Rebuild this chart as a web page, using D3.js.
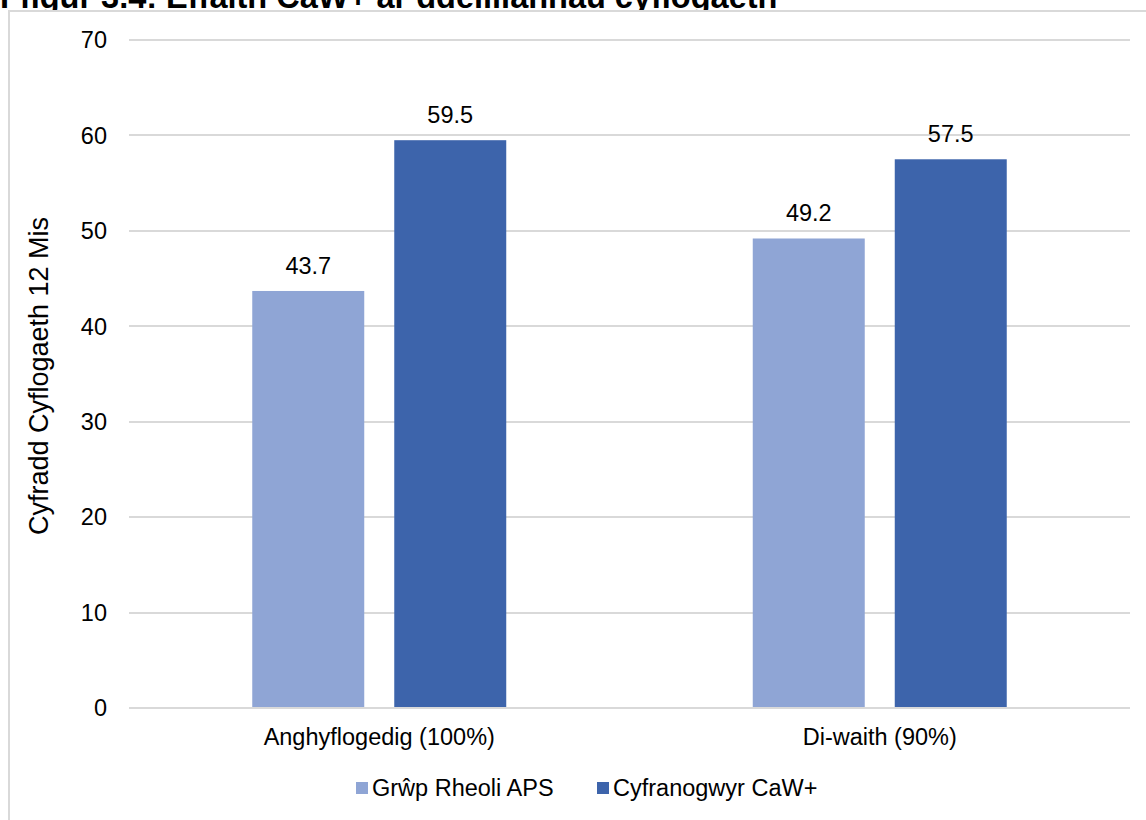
<!DOCTYPE html>
<html>
<head>
<meta charset="utf-8">
<script src="https://cdn.jsdelivr.net/npm/d3@7"></script>
<style>
  html, body { margin: 0; padding: 0; background: #fff; }
  svg { display: block; font-family: "Liberation Sans", Arial, sans-serif; }
</style>
</head>
<body>
<svg id="chart" width="1146" height="820"></svg>
<script>
const titleText = "Ffigur 3.4: Effaith CaW+ ar ddeilliannau cyflogaeth";
const yAxisTitle = "Cyfradd Cyflogaeth 12 Mis";
const categories = ["Anghyflogedig (100%)", "Di-waith (90%)"];
const seriesNames = ["Grŵp Rheoli APS", "Cyfranogwyr CaW+"];
const controlValues = [43.7, 49.2];
const participantValues = [59.5, 57.5];
const yTicks = [0, 10, 20, 30, 40, 50, 60, 70];
const colors = ["#8FA5D5", "#3D64AB"];

const svg = d3.select("#chart");
const W = 1146, H = 820;
const m = { left: 129, right: 1130, top: 40, bottom: 708 };
const FS = 23.5;

// Title (cut off by the top of the image, as in the reference)
svg.append("text")
  .attr("x", 0).attr("y", 8)
  .attr("font-size", 32.5).attr("font-weight", "bold").attr("fill", "#000")
  .text(titleText);

// Chart area border
svg.append("rect")
  .attr("x", 9).attr("y", 11).attr("width", W + 20).attr("height", H + 20)
  .attr("fill", "#fff").attr("stroke", "#d9d9d9").attr("stroke-width", 2);

const y = d3.scaleLinear().domain([0, 70]).range([m.bottom, m.top]);
const x0 = d3.scaleBand().domain(categories).range([m.left, m.right]).padding(0);
const x1 = d3.scaleBand().domain(seriesNames).range([0, x0.bandwidth()])
  .paddingInner(0.2113).paddingOuter(0.868);

// Gridlines
svg.append("g")
  .selectAll("line").data(yTicks).join("line")
  .attr("x1", m.left).attr("x2", m.right)
  .attr("y1", d => Math.round(y(d))).attr("y2", d => Math.round(y(d)))
  .attr("stroke", "#d9d9d9").attr("stroke-width", 2);

// Y tick labels
svg.append("g")
  .selectAll("text").data(yTicks).join("text")
  .attr("x", 107).attr("y", d => y(d)).attr("dy", "0.35em")
  .attr("text-anchor", "end").attr("font-size", FS).attr("fill", "#000")
  .text(d => d);

// Y axis title
svg.append("text")
  .attr("transform", `translate(39,${(m.top + m.bottom) / 2 + 2}) rotate(-90)`)
  .attr("text-anchor", "middle").attr("dy", "0.35em")
  .attr("font-size", 27).attr("fill", "#000")
  .text(yAxisTitle);

const data = categories.map((c, i) => ({
  cat: c,
  vals: [
    { s: seriesNames[0], v: controlValues[i], c: colors[0] },
    { s: seriesNames[1], v: participantValues[i], c: colors[1] }
  ]
}));

const groups = svg.append("g").selectAll("g").data(data).join("g")
  .attr("transform", d => `translate(${x0(d.cat)},0)`);

groups.selectAll("rect").data(d => d.vals).join("rect")
  .attr("x", d => x1(d.s))
  .attr("width", x1.bandwidth())
  .attr("y", d => y(d.v))
  .attr("height", d => y(0) - y(d.v))
  .attr("fill", d => d.c);

groups.selectAll("text.val").data(d => d.vals).join("text")
  .attr("class", "val")
  .attr("x", d => x1(d.s) + x1.bandwidth() / 2)
  .attr("y", d => y(d.v) - 17)
  .attr("text-anchor", "middle").attr("font-size", FS).attr("fill", "#000")
  .text(d => d.v.toFixed(1));

// Baseline
svg.append("line")
  .attr("x1", m.left).attr("x2", m.right)
  .attr("y1", Math.round(y(0))).attr("y2", Math.round(y(0)))
  .attr("stroke", "#d9d9d9").attr("stroke-width", 2);

// Category labels
svg.append("g").selectAll("text").data(categories).join("text")
  .attr("x", d => x0(d) + x0.bandwidth() / 2)
  .attr("y", 737).attr("dy", "0.35em")
  .attr("text-anchor", "middle").attr("font-size", FS).attr("fill", "#000")
  .text(d => d);

// Legend
const legendX = [356, 597];
const lg = svg.append("g").selectAll("g").data(seriesNames).join("g")
  .attr("transform", (d, i) => `translate(${legendX[i]},788)`);
lg.append("rect").attr("x", 0).attr("y", -6).attr("width", 12).attr("height", 12)
  .attr("fill", (d, i) => colors[i]);
lg.append("text").attr("x", 16).attr("y", 0).attr("dy", "0.35em")
  .attr("font-size", FS).attr("fill", "#000").text(d => d);
</script>
</body>
</html>
